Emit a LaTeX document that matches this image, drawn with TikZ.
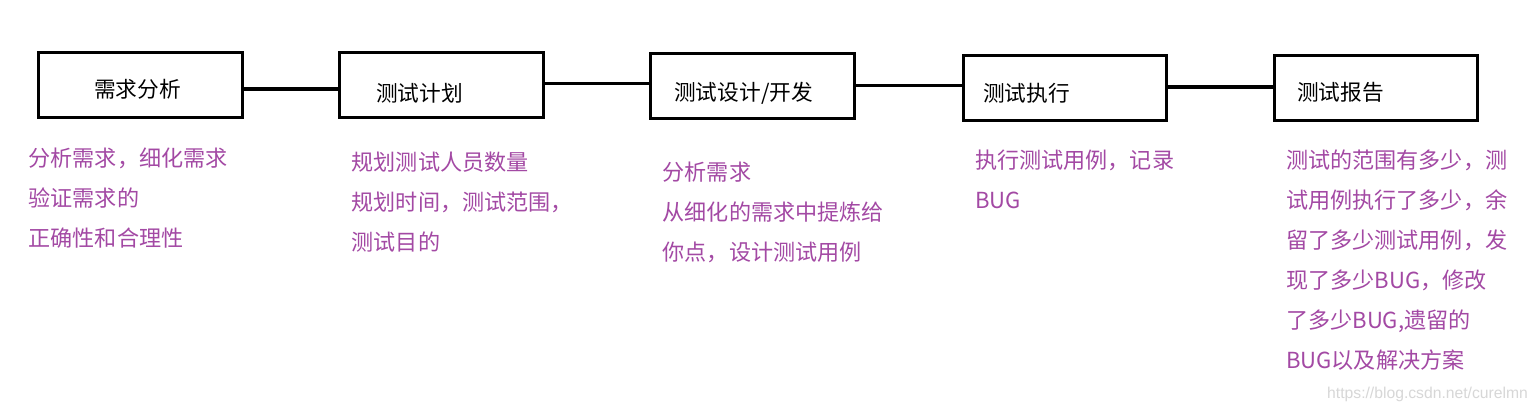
\documentclass[tikz,border=0pt]{standalone}
\usepackage{fontspec}
\newfontfamily\cjk{Noto Sans CJK SC}
\newfontfamily\wmfont{Liberation Sans}
\definecolor{notepurple}{RGB}{163,73,164}
\definecolor{wmgray}{RGB}{215,215,215}
\tikzset{
  stagebox/.style={draw=black, line width=3pt, rectangle, inner sep=0pt},
  conn/.style={draw=black, line width=3pt},
  boxtext/.style={inner sep=0pt, anchor=base west, text=black, font=\cjk\fontsize{21.7}{26}\selectfont},
  ptext/.style={inner sep=0pt, anchor=base west, text=notepurple, font=\cjk\fontsize{22.1}{26}\selectfont},
  wmtext/.style={inner sep=0pt, anchor=base west, text=wmgray, font=\wmfont\fontsize{15.7}{18}\selectfont}
}
\begin{document}
\begin{tikzpicture}[x=1pt,y=-1pt]
\useasboundingbox[fill=white] (0,0) rectangle (1537,412);
% stage boxes
\node[stagebox, minimum width=203.5pt, minimum height=65pt] (b1) at (140.25,85) {};
\node[stagebox, minimum width=203.5pt, minimum height=64.5pt] (b2) at (441.25,85.25) {};
\node[stagebox, minimum width=203.5pt, minimum height=64.5pt] (b3) at (752.25,86.25) {};
\node[stagebox, minimum width=203pt, minimum height=64.5pt] (b4) at (1064.5,87.75) {};
\node[stagebox, minimum width=203pt, minimum height=64.5pt] (b5) at (1375.5,88.25) {};
% box labels
\node[boxtext] (t1) at (94,98) {需求分析};
\node[boxtext] (t2) at (376,102) {测试计划};
\node[boxtext] (t3) at (674,100.5) {测试设计/开发};
\node[boxtext] (t4) at (983,102) {测试执行};
\node[boxtext] (t5) at (1297,100.5) {测试报告};
% connectors
\draw[conn] ([yshift=-4pt]b1.east) -- ([yshift=-3.75pt]b2.west);
\draw[conn] ([yshift=1.25pt]b2.east) -- ([yshift=2.25pt]b3.west);
\draw[conn] ([yshift=0.25pt]b3.east) -- ([yshift=1.75pt]b4.west);
\draw[conn] ([yshift=0.75pt]b4.east) -- ([xshift=2pt,yshift=1.25pt]b5.west);
% notes column 1
\node[ptext] (n1a) at (28.5,166) {分析需求，细化需求};
\node[ptext] (n1b) at (28.5,206) {验证需求的};
\node[ptext] (n1c) at (28.5,246) {正确性和合理性};
% notes column 2
\node[ptext] (n2a) at (351.5,170) {规划测试人员数量};
\node[ptext] (n2b) at (351.5,210) {规划时间，测试范围，};
\node[ptext] (n2c) at (351.5,250) {测试目的};
% notes column 3
\node[ptext] (n3a) at (662.5,180) {分析需求};
\node[ptext] (n3b) at (662.5,220) {从细化的需求中提炼给};
\node[ptext] (n3c) at (662.5,260) {你点，设计测试用例};
% notes column 4
\node[ptext] (n4a) at (975,168) {执行测试用例，记录};
\node[ptext] (n4b) at (975,208) {BUG};
% notes column 5
\node[ptext] (n5a) at (1286,168) {测试的范围有多少，测};
\node[ptext] (n5b) at (1286,208) {试用例执行了多少，余};
\node[ptext] (n5c) at (1286,248) {留了多少测试用例，发};
\node[ptext] (n5d) at (1286,288) {现了多少BUG，修改};
\node[ptext] (n5e) at (1286,328) {了多少BUG,遗留的};
\node[ptext] (n5f) at (1286,368) {BUG以及解决方案};
% watermark
\node[wmtext] (wm) at (1327,398) {https://blog.csdn.net/curelmn};
\end{tikzpicture}
\end{document}
